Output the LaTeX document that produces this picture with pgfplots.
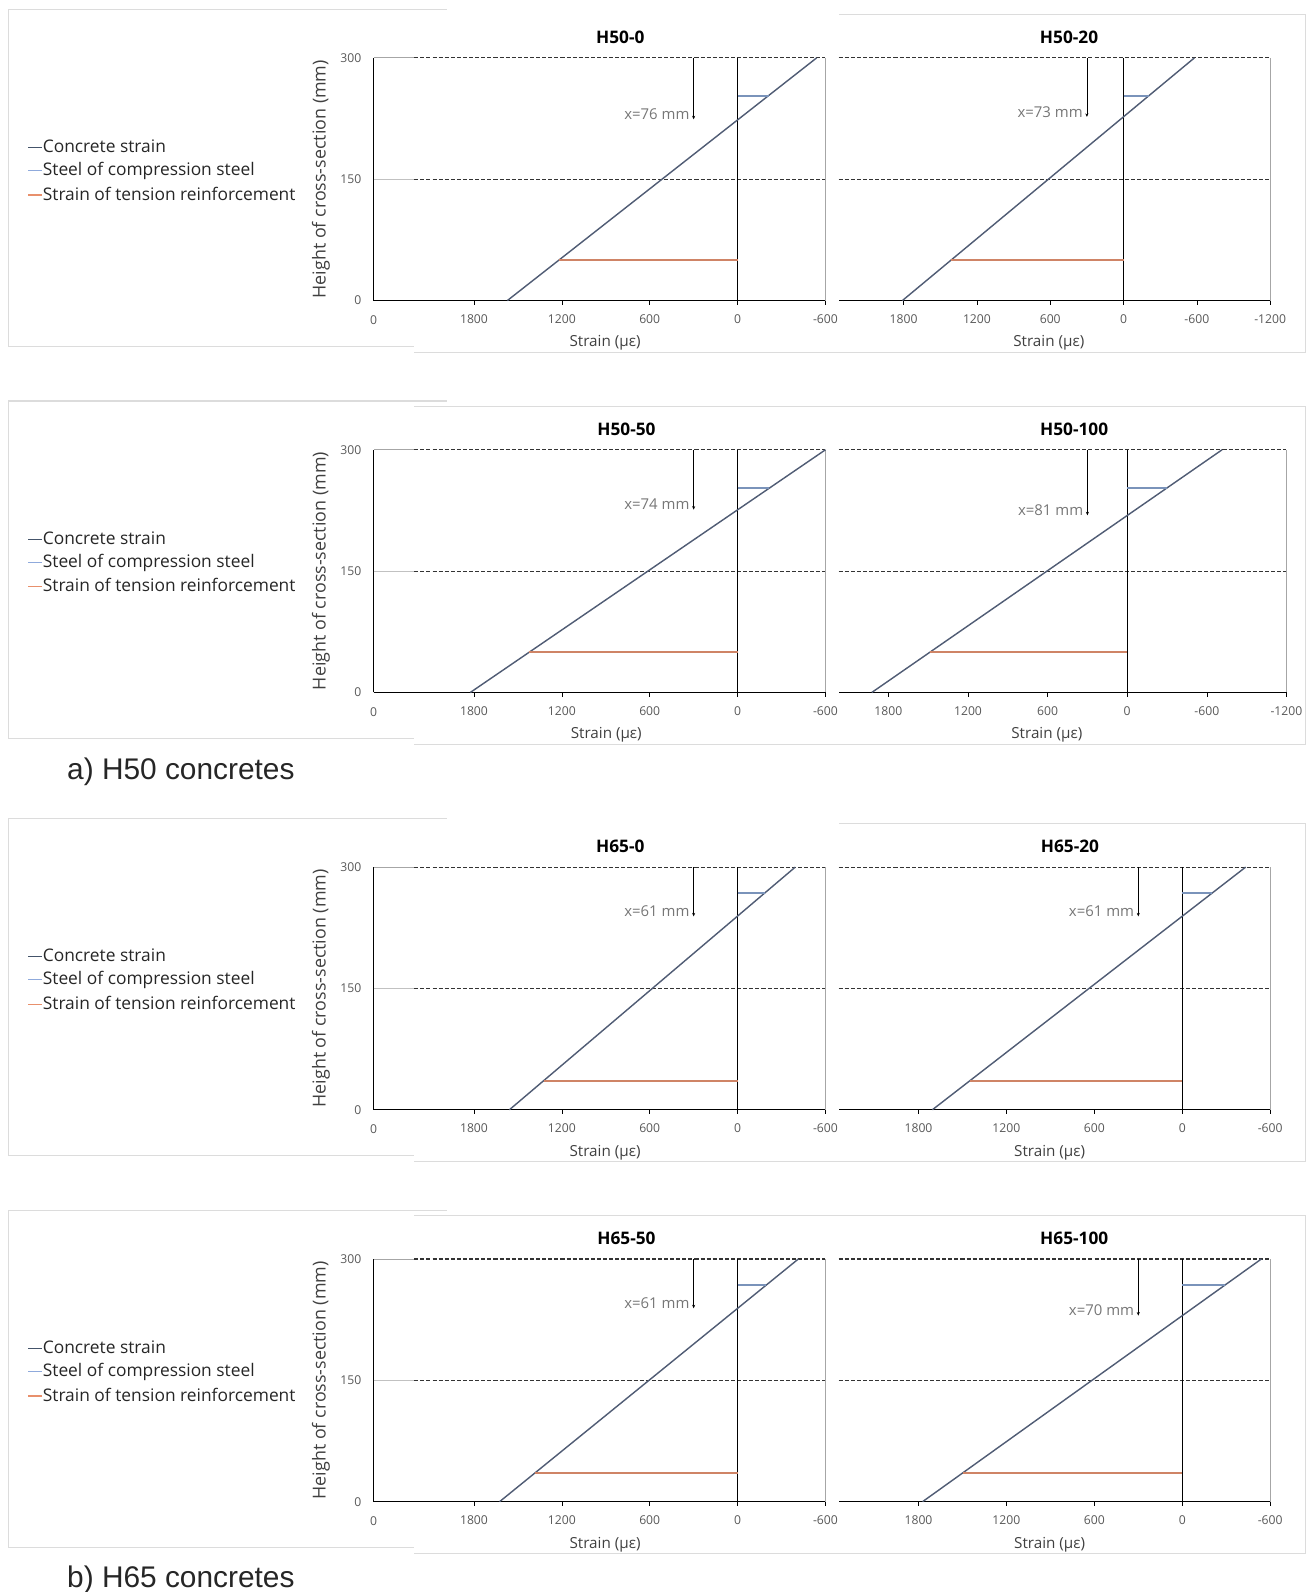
\documentclass[border=0pt]{standalone}
\usepackage{fontspec}
\setmainfont{Open Sans}
\newfontfamily\arialfont{Liberation Sans}
\usepackage{pgfplots}
\pgfplotsset{compat=1.18}
\usetikzlibrary{arrows.meta}

\definecolor{concc}{HTML}{505C74}
\definecolor{compc}{HTML}{7A93BA}
\definecolor{tensc}{HTML}{CF8466}
\definecolor{dashc}{HTML}{333333}
\definecolor{tickc}{HTML}{595959}
\definecolor{labc}{HTML}{404040}
\definecolor{annc}{HTML}{767676}
\definecolor{framec}{HTML}{DCDCDC}
\definecolor{borderc}{HTML}{A6A6A6}
\definecolor{legc1}{HTML}{44546A}
\definecolor{legc2}{HTML}{8FAADC}
\definecolor{legc3}{HTML}{E8906C}

\newcommand\ticksize{\fontsize{12}{14}\selectfont}
\newcommand\labsize{\fontsize{15}{18}\selectfont}
\newcommand\titsize{\fontsize{17}{20}\selectfont}
\newcommand\legsize{\fontsize{17.1}{20}\selectfont}
\newcommand\ylabsize{\fontsize{17.6}{21}\selectfont}
\newcommand\annsize{\fontsize{14.7}{17}\selectfont}

\pgfplotsset{
  panel/.style={scale only axis, clip=false, anchor=south west, x dir=reverse,
    ymin=0, ymax=300, height=239pt,
    axis x line=bottom, axis y line=none,
    axis line style={-, black, line width=0.8pt},
    xtick align=outside, major tick length=4pt,
    every tick/.style={black, line width=0.6pt},
    ytick=\empty,
    xticklabel style={font=\ticksize, text=tickc, inner sep=0pt, anchor=center, yshift=-14pt},
    xlabel={Strain (με)},
    xlabel style={font=\labsize, text=labc, anchor=center, yshift=-42pt},
    title style={font=\titsize\bfseries, text=black, anchor=center, yshift=14pt},
  },
  leftax/.style={scale only axis, clip=false, anchor=south west, width=40pt, height=239pt,
    xmin=0, xmax=1, ymin=0, ymax=300,
    axis x line=bottom, axis y line=left,
    axis line style={-, black, line width=0.8pt},
    major tick length=0pt,
    xtick={0}, xticklabels={0}, ytick={0,150,300}, yticklabels={0,150,300},
    xticklabel style={font=\ticksize, text=tickc, inner sep=0pt, anchor=center, yshift=-19pt},
    yticklabel style={font=\ticksize, text=tickc, inner sep=0pt, anchor=east, xshift=-12pt},
    ylabel={Height of cross-section (mm)},
    ylabel style={font=\ylabsize, text=labc, at={(axis description cs:-1.3,0.5)}, anchor=center},
  },
  concrete/.style={color=concc, line width=1.4pt},
  tension/.style={color=tensc, line width=1.9pt},
  compr/.style={color=compc, line width=1.9pt},
  dashl/.style={color=dashc, line width=1pt, dash pattern=on 4pt off 2pt},
  zerol/.style={black, line width=0.7pt},
  borderl/.style={color=borderc, line width=0.8pt},
  arrowl/.style={black, line width=0.6pt, -{Stealth[length=3.5pt,width=3pt]}},
  hseg300/.style={color=borderc, line width=0.9pt},
  hseg150/.style={color=borderc!70, line width=0.9pt},
}
\tikzset{
  ann/.style={font=\annsize, text=annc, anchor=east, xshift=-4pt, yshift=5pt, inner sep=0pt},
  leg/.style={anchor=base west, inner sep=0pt, font=\legsize, text=black!85},
}

\newcommand\leftdeco[2]{%
  \begin{scope}[x=1pt,y=-1pt]
    \draw[framec, line width=1.2pt] (440,{9+#1}) -- (8,{9+#1}) -- (8,{341+#1}) -- (408,{341+#1});
    \draw[framec, line width=1.2pt] (408,{347+#1}) -- (1286,{347+#1}) -- (1286,{14+#1}) -- (#2,{14+#1});
    \draw[legc1, line width=1.2pt] (28,{145+#1}) -- (41,{145+#1});
    \node[leg] at (42,{150+#1}) {Concrete strain};
    \draw[legc2, line width=1.2pt] (28,{168+#1}) -- (41,{168+#1});
    \node[leg] at (42,{173+#1}) {Steel of compression steel};
    \draw[legc3, line width=1.2pt] (28,{192+#1}) -- (41,{192+#1});
    \node[leg] at (42,{197+#1}) {Strain of tension reinforcement};
  \end{scope}%
}

\begin{document}
\begin{tikzpicture}
\useasboundingbox (0pt,0pt) rectangle (1287pt,-1568pt);

\leftdeco{0}{826}
\leftdeco{386}{408}
\leftdeco{797}{826}
\leftdeco{1183}{408}

\begin{scope}[x=1pt,y=-1pt]
  \node[anchor=west, font=\arialfont\fontsize{29.4}{34}\selectfont, text=black!85, inner sep=0pt] at (66,760) {a) H50 concretes};
  \node[anchor=west, font=\arialfont\fontsize{29.4}{34}\selectfont, text=black!85, inner sep=0pt] at (66,1556) {b) H65 concretes};
\end{scope}

% ---------- left y-axis charts ----------
\begin{axis}[leftax, at={(368pt,-296pt)}]
  \addplot[hseg300] coordinates {(0,300) (1,300)};
  \addplot[hseg150] coordinates {(0,150) (1,150)};
\end{axis}
\begin{axis}[leftax, at={(368pt,-682pt)}]
  \addplot[hseg300] coordinates {(0,300) (1,300)};
  \addplot[hseg150] coordinates {(0,150) (1,150)};
\end{axis}
\begin{axis}[leftax, at={(368pt,-1093pt)}]
  \addplot[hseg300] coordinates {(0,300) (1,300)};
  \addplot[hseg150] coordinates {(0,150) (1,150)};
\end{axis}
\begin{axis}[leftax, at={(368pt,-1479pt)}]
  \addplot[hseg300] coordinates {(0,300) (1,300)};
  \addplot[hseg150] coordinates {(0,150) (1,150)};
\end{axis}

% ---------- H50-0 ----------
\begin{axis}[panel, at={(408pt,-296pt)}, width=405pt, xmin=-600, xmax=2208,
  xtick={1800,1200,600,0,-600}, xticklabels={1800,1200,600,0,-600},
  title={H50-0}, title style={at={(axis description cs:0.501,1)}},
  xlabel style={at={(axis description cs:0.464,0)}}]
  \addplot[dashl] coordinates {(2208,300) (-600,300)};
  \addplot[dashl] coordinates {(2208,150) (-600,150)};
  \addplot[borderl] coordinates {(-600,0) (-600,300)};
  \addplot[zerol] coordinates {(0,0) (0,300)};
  \addplot[arrowl] coordinates {(300,300) (300,224)};
  \addplot[concrete] coordinates {(1572,0) (-540,300)};
  \addplot[tension] coordinates {(1220,50) (0,50)};
  \addplot[compr] coordinates {(0,253) (-213,253)};
  \node[ann] at (axis cs:300,224) {x=76 mm};
\end{axis}

% ---------- H50-20 ----------
\begin{axis}[panel, at={(826pt,-296pt)}, width=425pt, xmin=-1200, xmax=2332,
  xtick={1800,1200,600,0,-600,-1200}, xticklabels={1800,1200,600,0,-600,-1200},
  title={H50-20}, title style={at={(axis description cs:0.534,1)}},
  xlabel style={at={(axis description cs:0.487,0)}}]
  \addplot[dashl] coordinates {(2332,300) (-1200,300)};
  \addplot[dashl] coordinates {(2332,150) (-1200,150)};
  \addplot[borderl] coordinates {(-1200,0) (-1200,300)};
  \addplot[zerol] coordinates {(0,0) (0,300)};
  \addplot[arrowl] coordinates {(300,300) (300,227)};
  \addplot[concrete] coordinates {(1810,0) (-580,300)};
  \addplot[tension] coordinates {(1412,50) (0,50)};
  \addplot[compr] coordinates {(0,253) (-210,253)};
  \node[ann] at (axis cs:300,227) {x=73 mm};
\end{axis}

% ---------- H50-50 ----------
\begin{axis}[panel, at={(408pt,-682pt)}, width=405pt, xmin=-600, xmax=2208,
  xtick={1800,1200,600,0,-600}, xticklabels={1800,1200,600,0,-600},
  title={H50-50}, title style={at={(axis description cs:0.516,1)}},
  xlabel style={at={(axis description cs:0.467,0)}}]
  \addplot[dashl] coordinates {(2208,300) (-600,300)};
  \addplot[dashl] coordinates {(2208,150) (-600,150)};
  \addplot[borderl] coordinates {(-600,0) (-600,300)};
  \addplot[zerol] coordinates {(0,0) (0,300)};
  \addplot[arrowl] coordinates {(300,300) (300,226)};
  \addplot[concrete] coordinates {(1825,0) (-600,300)};
  \addplot[tension] coordinates {(1421,50) (0,50)};
  \addplot[compr] coordinates {(0,253) (-212,253)};
  \node[ann] at (axis cs:300,226) {x=74 mm};
\end{axis}

% ---------- H50-100 ----------
\begin{axis}[panel, at={(826pt,-682pt)}, width=441pt, xmin=-1200, xmax=2175,
  xtick={1800,1200,600,0,-600,-1200}, xticklabels={1800,1200,600,0,-600,-1200},
  title={H50-100}, title style={at={(axis description cs:0.526,1)}},
  xlabel style={at={(axis description cs:0.465,0)}}]
  \addplot[dashl] coordinates {(2175,300) (-1200,300)};
  \addplot[dashl] coordinates {(2175,150) (-1200,150)};
  \addplot[borderl] coordinates {(-1200,0) (-1200,300)};
  \addplot[zerol] coordinates {(0,0) (0,300)};
  \addplot[arrowl] coordinates {(300,300) (300,219)};
  \addplot[concrete] coordinates {(1925,0) (-715,300)};
  \addplot[tension] coordinates {(1485,50) (0,50)};
  \addplot[compr] coordinates {(0,253) (-301,253)};
  \node[ann] at (axis cs:300,219) {x=81 mm};
\end{axis}

% ---------- H65-0 ----------
\begin{axis}[panel, at={(408pt,-1093pt)}, width=405pt, xmin=-600, xmax=2208,
  xtick={1800,1200,600,0,-600}, xticklabels={1800,1200,600,0,-600},
  title={H65-0}, title style={at={(axis description cs:0.501,1)}},
  xlabel style={at={(axis description cs:0.464,0)}}]
  \addplot[dashl] coordinates {(2208,300) (-600,300)};
  \addplot[dashl] coordinates {(2208,150) (-600,150)};
  \addplot[borderl] coordinates {(-600,0) (-600,300)};
  \addplot[zerol] coordinates {(0,0) (0,300)};
  \addplot[arrowl] coordinates {(300,300) (300,239)};
  \addplot[concrete] coordinates {(1558,0) (-394,300)};
  \addplot[tension] coordinates {(1324,36) (0,36)};
  \addplot[compr] coordinates {(0,268) (-186,268)};
  \node[ann] at (axis cs:300,239) {x=61 mm};
\end{axis}

% ---------- H65-20 ----------
\begin{axis}[panel, at={(826pt,-1093pt)}, width=425pt, xmin=-600, xmax=2345,
  xtick={1800,1200,600,0,-600}, xticklabels={1800,1200,600,0,-600},
  title={H65-20}, title style={at={(axis description cs:0.536,1)}},
  xlabel style={at={(axis description cs:0.489,0)}}]
  \addplot[dashl] coordinates {(2345,300) (-600,300)};
  \addplot[dashl] coordinates {(2345,150) (-600,150)};
  \addplot[borderl] coordinates {(-600,0) (-600,300)};
  \addplot[zerol] coordinates {(0,0) (0,300)};
  \addplot[arrowl] coordinates {(300,300) (300,239)};
  \addplot[concrete] coordinates {(1705,0) (-433,300)};
  \addplot[tension] coordinates {(1448,36) (0,36)};
  \addplot[compr] coordinates {(0,268) (-205,268)};
  \node[ann] at (axis cs:300,239) {x=61 mm};
\end{axis}

% ---------- H65-50 ----------
\begin{axis}[panel, at={(408pt,-1479pt)}, width=405pt, xmin=-600, xmax=2208,
  xtick={1800,1200,600,0,-600}, xticklabels={1800,1200,600,0,-600},
  title={H65-50}, title style={at={(axis description cs:0.516,1)}},
  xlabel style={at={(axis description cs:0.464,0)}}]
  \addplot[dashl] coordinates {(2208,300) (-600,300)};
  \addplot[dashl] coordinates {(2208,150) (-600,150)};
  \addplot[borderl] coordinates {(-600,0) (-600,300)};
  \addplot[zerol] coordinates {(0,0) (0,300)};
  \addplot[arrowl] coordinates {(300,300) (300,239)};
  \addplot[concrete] coordinates {(1625,0) (-415,300)};
  \addplot[tension] coordinates {(1380,36) (0,36)};
  \addplot[compr] coordinates {(0,268) (-197,268)};
  \node[ann] at (axis cs:300,239) {x=61 mm};
\end{axis}

% ---------- H65-100 ----------
\begin{axis}[panel, at={(826pt,-1479pt)}, width=425pt, xmin=-600, xmax=2345,
  xtick={1800,1200,600,0,-600}, xticklabels={1800,1200,600,0,-600},
  title={H65-100}, title style={at={(axis description cs:0.546,1)}},
  xlabel style={at={(axis description cs:0.489,0)}}]
  \addplot[dashl] coordinates {(2345,300) (-600,300)};
  \addplot[dashl] coordinates {(2345,150) (-600,150)};
  \addplot[borderl] coordinates {(-600,0) (-600,300)};
  \addplot[zerol] coordinates {(0,0) (0,300)};
  \addplot[arrowl] coordinates {(300,300) (300,230)};
  \addplot[concrete] coordinates {(1772,0) (-540,300)};
  \addplot[tension] coordinates {(1494,36) (0,36)};
  \addplot[compr] coordinates {(0,268) (-293,268)};
  \node[ann] at (axis cs:300,230) {x=70 mm};
\end{axis}
\end{tikzpicture}
\end{document}
